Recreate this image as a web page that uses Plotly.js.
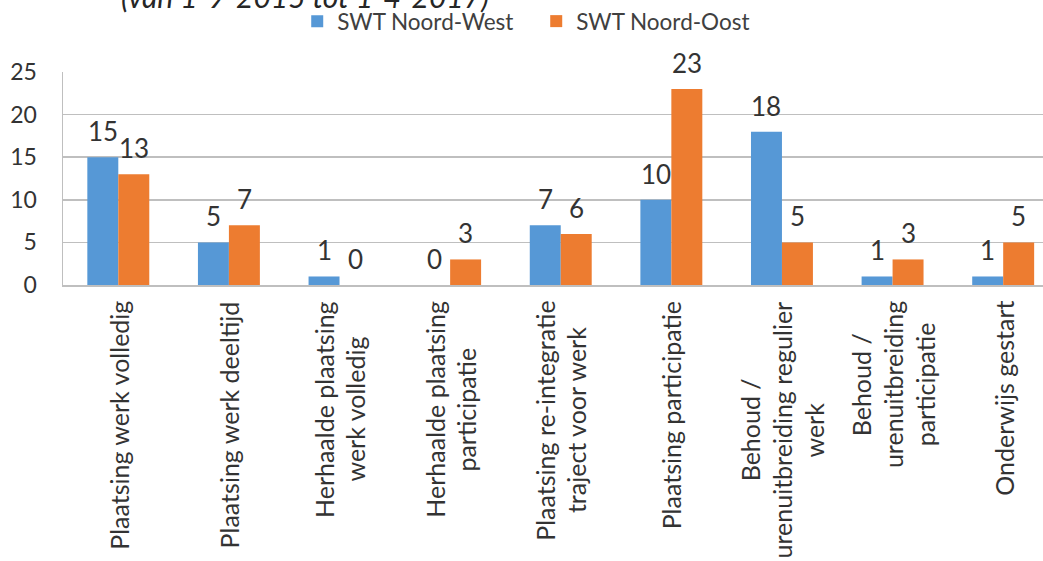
<!DOCTYPE html>
<html>
<head>
<meta charset="utf-8">
<script src="https://cdn.plot.ly/plotly-3.0.1.min.js"></script>
<style>
  html, body { margin: 0; padding: 0; background: #fff; overflow: hidden; }
  #chart { width: 1043px; height: 561px; }
</style>
</head>
<body>
<div id="chart"></div>
<script>
// ---- data ----
const categories = [
  "Plaatsing werk volledig",
  "Plaatsing werk deeltijd",
  "Herhaalde plaatsing<br>werk volledig",
  "Herhaalde plaatsing<br>participatie",
  "Plaatsing re-integratie<br>traject voor werk",
  "Plaatsing participatie",
  "Behoud /<br>urenuitbreiding regulier<br>werk",
  "Behoud /<br>urenuitbreiding<br>participatie",
  "Onderwijs gestart"
];
const noordWest = [15, 5, 1, 0, 7, 10, 18, 1, 1];
const noordOost = [13, 7, 0, 3, 6, 23, 5, 3, 5];
const seriesNames = ["SWT Noord-West", "SWT Noord-Oost"];
const titleText = "(van 1-9-2015 tot 1-4-2017)";
const yTicks = [0, 5, 10, 15, 20, 25];

// ---- style ----
const FONT = "Lato, 'Open Sans', sans-serif";
const TEXT = "#333333";
const BLUE = "#5698d6";
const ORANGE = "#ed7c30";
const GRID = "#bfbfbf";
const catFontSize = 25;
const lineSpacing = 32;
const barShift = 15.5;

function measure(text, size) {
  const ctx = document.createElement('canvas').getContext('2d');
  ctx.font = size + "px Lato";
  return ctx.measureText(text).width;
}

function draw() {
  const traces = [
    { type: 'bar', name: seriesNames[0], x: categories, y: noordWest,
      marker: { color: BLUE }, hoverinfo: 'x+y' },
    { type: 'bar', name: seriesNames[1], x: categories, y: noordOost,
      marker: { color: ORANGE }, hoverinfo: 'x+y' }
  ];

  const annotations = [];
  // data labels
  [noordWest, noordOost].forEach((vals, s) => {
    vals.forEach((v, i) => {
      annotations.push({
        x: categories[i], y: v, xref: 'x', yref: 'y',
        text: String(v), showarrow: false,
        xanchor: 'center', yanchor: 'middle',
        xshift: s === 0 ? -barShift : barShift, yshift: 26,
        font: { family: FONT, size: 26, color: TEXT }
      });
    });
  });

  // rotated category labels, lines centered
  categories.forEach((cat) => {
    const lines = cat.split('<br>');
    const widths = lines.map(l => measure(l, catFontSize));
    const maxW = Math.max(...widths);
    lines.forEach((line, j) => {
      annotations.push({
        x: cat, xref: 'x', y: 0, yref: 'paper',
        text: line, showarrow: false, textangle: -90,
        xanchor: 'center', yanchor: 'top',
        xshift: (j - (lines.length - 1) / 2) * lineSpacing,
        yshift: -14 - (maxW - widths[j]) / 2,
        font: { family: FONT, size: catFontSize, color: TEXT }
      });
    });
  });

  // title (partially visible at the top)
  annotations.push({
    x: 0.247, xref: 'paper', y: 1.264, yref: 'paper',
    text: titleText, showarrow: false,
    xanchor: 'center', yanchor: 'bottom',
    font: { family: FONT, size: 30, color: '#262626', style: 'italic' }
  });

  const layout = {
    width: 1043, height: 561,
    margin: { l: 63, r: 0, t: 71, b: 276, pad: 0 },
    paper_bgcolor: '#ffffff', plot_bgcolor: '#ffffff',
    font: { family: FONT, color: TEXT },
    barmode: 'group', bargap: 0.44, bargroupgap: 0,
    showlegend: true,
    legend: {
      orientation: 'h', x: 0.239, xanchor: 'left', y: 1.238, yanchor: 'middle',
      font: { family: FONT, size: 22.5, color: '#404040' },
      bgcolor: 'rgba(0,0,0,0)', traceorder: 'normal',
      entrywidth: 194, entrywidthmode: 'pixels'
    },
    xaxis: {
      type: 'category', range: [-0.5, 8.36],
      showticklabels: false, ticks: '',
      showline: true, linecolor: GRID, linewidth: 1.5,
      showgrid: false, zeroline: false, fixedrange: true
    },
    yaxis: {
      range: [0, 25], tickvals: yTicks, ticktext: yTicks.map(String),
      showgrid: true, gridcolor: GRID, gridwidth: 1.5,
      showline: true, linecolor: GRID, linewidth: 1.5,
      zeroline: false, ticks: '', ticklabelstandoff: 20,
      tickfont: { family: FONT, size: 23, color: TEXT }, fixedrange: true
    },
    annotations: annotations
  };

  Plotly.newPlot('chart', traces, layout, { displayModeBar: false, staticPlot: true });
}

if (document.fonts && document.fonts.load) {
  document.fonts.load(catFontSize + "px Lato").then(draw, draw);
} else {
  draw();
}
</script>
</body>
</html>
